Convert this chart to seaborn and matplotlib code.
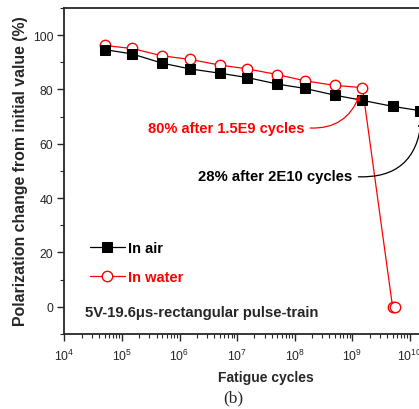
import numpy as np
import pandas as pd
import matplotlib
matplotlib.use("Agg")
import matplotlib.pyplot as plt
import seaborn as sns

# ---- data ----
air_cycles = [5e4, 1.5e5, 5e5, 1.5e6, 5e6, 1.5e7, 5e7, 1.5e8, 5e8, 1.5e9, 5e9, 1.5e10]
air_pol = [94.7, 93.1, 89.7, 87.6, 86.0, 84.4, 82.0, 80.4, 77.9, 76.0, 73.8, 72.2]
water_cycles = [5e4, 1.5e5, 5e5, 1.5e6, 5e6, 1.5e7, 5e7, 1.5e8, 5e8, 1.5e9, 5e9, 5.6e9]
water_pol = [96.2, 95.1, 92.4, 91.1, 89.0, 87.6, 85.5, 83.2, 81.5, 80.7, 0.0, 0.0]
x_ticks = [1e4, 1e5, 1e6, 1e7, 1e8, 1e9, 1e10]
y_ticks = [0, 20, 40, 60, 80, 100]

sns.set_style("ticks")
plt.rcParams['font.family'] = ['Liberation Sans', 'DejaVu Sans']
plt.rcParams['mathtext.fontset'] = 'custom'
plt.rcParams['mathtext.rm'] = 'Liberation Sans'
plt.rcParams['mathtext.it'] = 'Liberation Sans:italic'
plt.rcParams['mathtext.bf'] = 'Liberation Sans:bold'

fig = plt.figure(figsize=(4.19, 4.10), dpi=100)
ax = fig.add_axes([64.3/419, 1-335/410, 403.2/419, 326/410])

df_air = pd.DataFrame({"cycles": air_cycles, "pol": air_pol})
df_water = pd.DataFrame({"cycles": water_cycles, "pol": water_pol})

sns.lineplot(data=df_water, x="cycles", y="pol", ax=ax, sort=False, color="red",
             lw=0.9, marker="o", markersize=7.5, markerfacecolor="white",
             markeredgecolor="red", markeredgewidth=1.0, label="In water", zorder=2)
sns.lineplot(data=df_air, x="cycles", y="pol", ax=ax, sort=False, color="black",
             lw=0.9, marker="s", markersize=6.5, markerfacecolor="black",
             markeredgecolor="black", label="In air", zorder=3)

ax.set_xscale("log")
ax.set_xlim(1e4, 1e11)
ax.set_ylim(-10, 110)
ax.set_xticks(x_ticks)
ax.set_xticklabels([r"$10^{%d}$" % int(np.log10(t)) for t in x_ticks])
ax.set_yticks(y_ticks)
ax.set_yticks([-10, 10, 30, 50, 70, 90, 110], minor=True)
ax.xaxis.set_minor_locator(matplotlib.ticker.LogLocator(base=10, subs=np.arange(2, 10)))
ax.xaxis.set_minor_formatter(matplotlib.ticker.NullFormatter())
ax.tick_params(which="major", direction="out", length=5, width=1, labelsize=8.8, pad=3)
ax.tick_params(axis="x", which="major", pad=5)
ax.tick_params(which="minor", direction="out", length=3, width=0.8)
for s in ["left", "bottom", "top", "right"]:
    ax.spines[s].set_linewidth(1.3)
    ax.spines[s].set_visible(True)

ax.set_xlabel("Fatigue cycles", fontsize=10, fontweight="bold", labelpad=5)
ax.set_ylabel("Polarization change from initial value (%)", fontsize=11.4,
              fontweight="bold")
ax.yaxis.set_label_coords(-(64.3 - 28) / 403.2, (335 - 171) / 326)

handles, labels = ax.get_legend_handles_labels()
order = [labels.index("In air"), labels.index("In water")]
leg = ax.legend([handles[i] for i in order], [labels[i] for i in order],
                loc="upper left", bbox_to_anchor=(0.03, 0.325), frameon=False,
                handlelength=2.4, handletextpad=0.25, labelspacing=1.05,
                prop={"weight": "bold", "size": 10.5})
for t, c in zip(leg.get_texts(), ["black", "red"]):
    t.set_color(c)

ax.text(2.3e4, -2, "5V-19.6\u03bcs-rectangular pulse-train", fontsize=10.7,
        fontweight="bold", va="center", ha="left")

ax.annotate("80% after 1.5E9 cycles", xy=(1.4e9, 79.0), xytext=(2.8e5, 66.0),
            fontsize=10.5, fontweight="bold", color="red", va="center", ha="left",
            arrowprops=dict(arrowstyle="-|>", color="red", lw=0.9, relpos=(1.0, 0.5),
                            connectionstyle="arc3,rad=0.4", shrinkA=2, shrinkB=2,
                            mutation_scale=8))
ax.annotate("28% after 2E10 cycles", xy=(1.6e10, 69.5), xytext=(2.1e6, 48.0),
            fontsize=10.7, fontweight="bold", color="black", va="center", ha="left",
            arrowprops=dict(arrowstyle="-|>", color="black", lw=0.9, relpos=(1.0, 0.5),
                            connectionstyle="arc3,rad=0.5", shrinkA=2, shrinkB=2,
                            mutation_scale=8))

fig.text(233/419, 1-398/410, "(b)", fontsize=12.5, family="Liberation Serif",
         ha="center", va="center")

fig.savefig("out.png", dpi=100)
